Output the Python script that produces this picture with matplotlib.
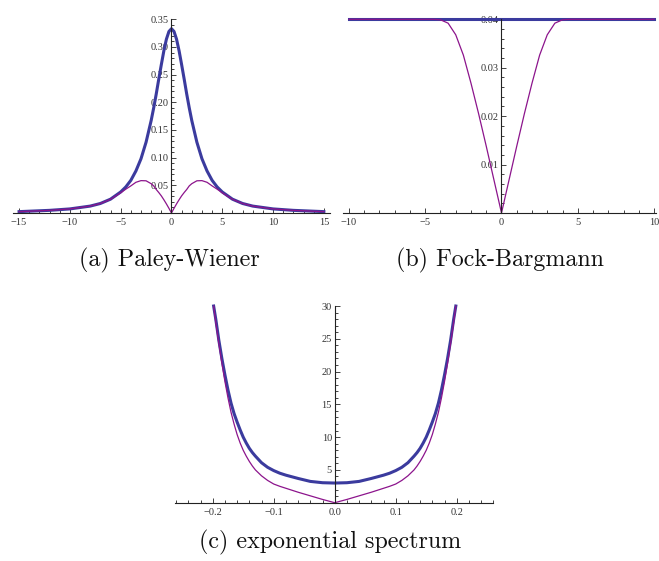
import matplotlib
matplotlib.use('Agg')
import matplotlib.pyplot as plt
from matplotlib.ticker import MultipleLocator

# values
# (a) Paley-Wiener
pw_x = [-15, -12, -10, -8, -7, -6, -5, -4.5, -4, -3.5, -3, -2.5, -2, -1.75, -1.5, -1.25, -1, -0.75, -0.5, -0.25,
        0, 0.25, 0.5, 0.75, 1, 1.25, 1.5, 1.75, 2, 2.5, 3, 3.5, 4, 4.5, 5, 6, 7, 8, 10, 12, 15]
pw_blue = [0.0025, 0.0048, 0.0074, 0.0125, 0.0172, 0.025, 0.038, 0.047, 0.059, 0.076, 0.098, 0.128, 0.167, 0.19,
           0.215, 0.242, 0.268, 0.293, 0.314, 0.328,
           0.333, 0.328, 0.314, 0.293, 0.268, 0.242, 0.215, 0.19, 0.167, 0.128, 0.098, 0.076, 0.059, 0.047, 0.038,
           0.025, 0.0172, 0.0125, 0.0074, 0.0048, 0.0025]
pw_purple = [0.0025, 0.0048, 0.0074, 0.0125, 0.0172, 0.0248, 0.0365, 0.043, 0.049, 0.0555, 0.0585, 0.0582, 0.053,
             0.049, 0.0425, 0.037, 0.031, 0.024, 0.0165, 0.0085,
             0, 0.0085, 0.0165, 0.024, 0.031, 0.037, 0.0425, 0.049, 0.053, 0.0582, 0.0585, 0.0555, 0.049, 0.043,
             0.0365, 0.0248, 0.0172, 0.0125, 0.0074, 0.0048, 0.0025]

# (b) Fock-Bargmann
fb_blue_x = [-10, 10]
fb_blue = [0.04, 0.04]
fb_x = [-10, -5, -4.5, -4, -3.5, -3, -2.5, -2, -1.5, -1, -0.5, 0, 0.5, 1, 1.5, 2, 2.5, 3, 3.5, 4, 4.5, 5, 10]
fb_purple = [0.04, 0.04, 0.04, 0.0399, 0.0392, 0.0368, 0.0326, 0.0268, 0.0205, 0.0138, 0.0069, 0,
             0.0069, 0.0138, 0.0205, 0.0268, 0.0326, 0.0368, 0.0392, 0.0399, 0.04, 0.04, 0.04]

# (c) exponential spectrum
ex_x = [-0.1985, -0.195, -0.19, -0.185, -0.18, -0.175, -0.17, -0.165, -0.16, -0.155, -0.15, -0.145, -0.14,
        -0.135, -0.13, -0.12, -0.11, -0.1, -0.09, -0.08, -0.06, -0.04, -0.02,
        0, 0.02, 0.04, 0.06, 0.08, 0.09, 0.1, 0.11, 0.12, 0.13, 0.135, 0.14, 0.145, 0.15, 0.155, 0.16, 0.165,
        0.17, 0.175, 0.18, 0.185, 0.19, 0.195, 0.1985]
ex_blue = [30, 28, 24.8, 22, 19.5, 17.2, 15.2, 13.6, 12.3, 11.1, 10.0, 9.1, 8.3, 7.65, 7.1, 6.1, 5.4, 4.9, 4.5,
           4.2, 3.7, 3.25, 3.05,
           3.0, 3.05, 3.25, 3.7, 4.2, 4.5, 4.9, 5.4, 6.1, 7.1, 7.65, 8.3, 9.1, 10.0, 11.1, 12.3, 13.6, 15.2,
           17.2, 19.5, 22, 24.8, 28, 30]
ex_purple = [30, 27.5, 24.3, 21.3, 18.5, 16.0, 13.8, 12.0, 10.4, 9.1, 8.0, 7.1, 6.3, 5.6, 5.0, 4.1, 3.4, 2.85,
             2.5, 2.2, 1.6, 1.05, 0.5,
             0, 0.5, 1.05, 1.6, 2.2, 2.5, 2.85, 3.4, 4.1, 5.0, 5.6, 6.3, 7.1, 8.0, 9.1, 10.4, 12.0, 13.8,
             16.0, 18.5, 21.3, 24.3, 27.5, 30]

blue = '#3b3b9e'
purple = '#8c148c'
tick_font = 'Liberation Serif'


def style_axes(ax, xmajor, xminor, yminor, yticks):
    for s in ['top', 'right']:
        ax.spines[s].set_visible(False)
    ax.spines['left'].set_position(('data', 0))
    ax.spines['bottom'].set_position(('data', 0))
    for s in ['left', 'bottom']:
        ax.spines[s].set_color('#222222')
        ax.spines[s].set_linewidth(0.8)
    ax.xaxis.set_major_locator(MultipleLocator(xmajor))
    ax.xaxis.set_minor_locator(MultipleLocator(xminor))
    ax.set_yticks(yticks)
    ax.yaxis.set_minor_locator(MultipleLocator(yminor))
    ax.tick_params(which='both', direction='in', colors='#222222', labelcolor='#333333', width=0.6)
    ax.tick_params(which='major', length=3.5, labelsize=7.5)
    ax.tick_params(which='minor', length=2)
    ax.tick_params(axis='x', pad=3.5)
    ax.tick_params(axis='y', pad=2)
    for lab in ax.get_xticklabels() + ax.get_yticklabels():
        lab.set_fontfamily(tick_font)
    ax.patch.set_alpha(0)


fig = plt.figure(figsize=(6.59, 5.61), dpi=100)

ax1 = fig.add_axes([0.0197, 0.6203, 0.481, 0.3453])
ax1.plot(pw_x, pw_blue, color=blue, lw=2.2, clip_on=False)
ax1.plot(pw_x, pw_purple, color=purple, lw=0.9, clip_on=False)
ax1.set_xlim(-15.6, 15.6)
ax1.set_ylim(0, 0.35)
style_axes(ax1, 5, 1, 0.01, [0.05, 0.10, 0.15, 0.20, 0.25, 0.30, 0.35])

ax2 = fig.add_axes([0.5203, 0.6203, 0.4756, 0.3453])
ax2.plot(fb_blue_x, fb_blue, color=blue, lw=2.2, clip_on=False)
ax2.plot(fb_x, fb_purple, color=purple, lw=0.9, clip_on=False)
ax2.set_xlim(-10.4, 10.15)
ax2.set_ylim(0, 0.04)
style_axes(ax2, 5, 1, 0.002, [0.01, 0.02, 0.03, 0.04])

ax3 = fig.add_axes([0.2654, 0.1039, 0.4832, 0.3506])
ax3.plot(ex_x, ex_blue, color=blue, lw=2.2, clip_on=False)
ax3.plot(ex_x, ex_purple, color=purple, lw=0.9, clip_on=False)
ax3.set_xlim(-0.262, 0.26)
ax3.set_ylim(0, 30)
style_axes(ax3, 0.1, 0.02, 1, [5, 10, 15, 20, 25, 30])

cap = dict(fontfamily='cmr10', fontsize=17.3, ha='center', va='center', color='#111111')
fig.text(0.2565, 0.5365, '(a) Paley-Wiener', **cap)
fig.text(0.7587, 0.5365, '(b) Fock-Bargmann', **cap)
fig.text(0.5008, 0.033, '(c) exponential spectrum', **cap)

fig.savefig('out.png', dpi=100)
